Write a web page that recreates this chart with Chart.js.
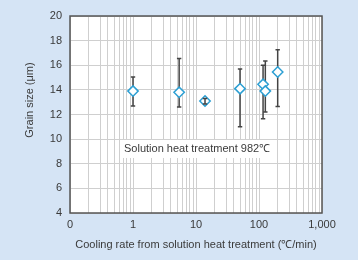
<!DOCTYPE html>
<html>
<head>
<meta charset="utf-8">
<script src="https://cdn.jsdelivr.net/npm/chart.js@4/dist/chart.umd.min.js"></script>
<style>
html,body{margin:0;padding:0;background:#d5e4f5;}
#wrap{width:358px;height:260px;}
</style>
</head>
<body>
<div id="wrap"><canvas id="c" width="358" height="260"></canvas></div>
<script>
// ---- data ----
const coolingRates = [1.0, 5.4, 13.9, 50, 116, 126, 198];
const grainSize    = [13.9, 13.8, 13.1, 14.1, 14.45, 13.9, 15.45];
const errHigh      = [15.05, 16.55, 13.3, 15.7, 16.0, 16.35, 17.25];
const errLow       = [12.7, 12.6, 12.85, 11.0, 11.65, 12.2, 12.65];

const xMajorTicks  = [0.1, 1, 10, 100, 1000];
const xMajorLabels = ['0', '1', '10', '100', '1,000'];
const yTicks       = [4, 6, 8, 10, 12, 14, 16, 18, 20];

const xTitle = 'Cooling rate from solution heat treatment (\u2103/min)';
const yTitle = 'Grain size (\u03bcm)';
const noteText = 'Solution heat treatment 982\u2103';
const notePos = {x: 10.4, y: 9.2};

// ---- style ----
const FONT = '"Liberation Sans", Arial, sans-serif';
const TEXT = '#3a3a3a';
const PAGE_BG = '#d5e4f5';
const GRID = '#cfcfcf';
const MARK = '#2c9fd3';
const BAR = '#444444';
const RADIUS = 5.2;

// minor tick positions for log gridlines
const xAllTicks = [];
for (let i = 0; i < xMajorTicks.length - 1; i++) {
  for (let m = 1; m < 10; m++) xAllTicks.push(+(xMajorTicks[i] * m).toPrecision(6));
}
xAllTicks.push(xMajorTicks[xMajorTicks.length - 1]);

const bgPlugin = {
  id: 'bg',
  beforeDraw(chart) {
    const {ctx, chartArea: a} = chart;
    ctx.save();
    ctx.fillStyle = PAGE_BG;
    ctx.fillRect(0, 0, chart.width, chart.height);
    ctx.fillStyle = '#ffffff';
    ctx.fillRect(a.left, a.top, a.right - a.left, a.bottom - a.top);
    ctx.restore();
  }
};

function drawBar(ctx, x, y, i) {
  const px = x.getPixelForValue(coolingRates[i]);
  const yh = y.getPixelForValue(errHigh[i]);
  const yl = y.getPixelForValue(errLow[i]);
  ctx.beginPath();
  ctx.moveTo(px, yh); ctx.lineTo(px, yl);
  ctx.moveTo(px - 2.2, yh); ctx.lineTo(px + 2.2, yh);
  ctx.moveTo(px - 2.2, yl); ctx.lineTo(px + 2.2, yl);
  ctx.stroke();
}
function isShortBar(y, i) {
  return Math.abs(y.getPixelForValue(errHigh[i]) - y.getPixelForValue(errLow[i])) < 2 * RADIUS;
}

const extrasPlugin = {
  id: 'extras',
  beforeDatasetsDraw(chart) {
    const {ctx, scales: {x, y}} = chart;
    ctx.save();
    // annotation box
    ctx.font = '11px ' + FONT;
    const tw = ctx.measureText(noteText).width;
    const cx = x.getPixelForValue(notePos.x), cy = y.getPixelForValue(notePos.y);
    ctx.fillStyle = '#ffffff';
    ctx.fillRect(cx - tw / 2 - 3, cy - 9, tw + 6, 18);
    ctx.fillStyle = TEXT;
    ctx.textAlign = 'center';
    ctx.textBaseline = 'middle';
    ctx.fillText(noteText, cx, cy);
    // error bars (behind markers)
    ctx.strokeStyle = BAR;
    ctx.lineWidth = 1.5;
    for (let i = 0; i < coolingRates.length; i++) {
      if (!isShortBar(y, i)) drawBar(ctx, x, y, i);
    }
    ctx.restore();
  },
  afterDatasetsDraw(chart) {
    const {ctx, scales: {x, y}} = chart;
    ctx.save();
    ctx.strokeStyle = BAR;
    ctx.lineWidth = 1.5;
    for (let i = 0; i < coolingRates.length; i++) {
      if (isShortBar(y, i)) drawBar(ctx, x, y, i);
    }
    ctx.restore();
  },
  afterDraw(chart) {
    const {ctx, chartArea: a} = chart;
    ctx.save();
    ctx.strokeStyle = '#555555';
    ctx.lineWidth = 1.5;
    ctx.strokeRect(a.left, a.top, a.right - a.left, a.bottom - a.top);
    // y title
    ctx.fillStyle = TEXT;
    ctx.font = '11px ' + FONT;
    ctx.textAlign = 'center';
    ctx.textBaseline = 'middle';
    ctx.translate(30, 100);
    ctx.rotate(-Math.PI / 2);
    ctx.fillText(yTitle, 0, 0);
    ctx.restore();
  }
};

new Chart(document.getElementById('c'), {
  type: 'scatter',
  data: {
    datasets: [{
      data: coolingRates.map((v, i) => ({x: v, y: grainSize[i]})),
      pointStyle: 'rectRot',
      pointRadius: RADIUS,
      pointBorderWidth: 1.5,
      pointBorderColor: MARK,
      pointBackgroundColor: '#ffffff',
      showLine: false
    }]
  },
  options: {
    responsive: false,
    animation: false,
    events: [],
    layout: {padding: {left: 0, right: 36, top: 16, bottom: 0}},
    plugins: {legend: {display: false}, tooltip: {enabled: false}},
    scales: {
      x: {
        type: 'logarithmic',
        min: 0.1, max: 1000,
        afterBuildTicks(scale) { scale.ticks = xAllTicks.map(v => ({value: v})); },
        afterFit(scale) { scale.height = 47; },
        grid: {color: GRID, drawTicks: false, lineWidth: 1},
        border: {display: false},
        ticks: {
          autoSkip: false, maxRotation: 0, padding: 5,
          color: TEXT, font: {family: FONT, size: 11},
          callback(v) { const k = xMajorTicks.findIndex(t => Math.abs(t - v) < 1e-9); return k >= 0 ? xMajorLabels[k] : ''; }
        },
        title: {display: true, text: xTitle, color: TEXT, font: {family: FONT, size: 11}, padding: {top: 0, bottom: 8}}
      },
      y: {
        min: 4, max: 20,
        afterBuildTicks(scale) { scale.ticks = yTicks.map(v => ({value: v})); },
        afterFit(scale) { scale.width = 70; },
        grid: {color: GRID, drawTicks: false, lineWidth: 1},
        border: {display: false},
        ticks: {padding: 8, color: TEXT, font: {family: FONT, size: 11}}
      }
    }
  },
  plugins: [bgPlugin, extrasPlugin]
});
</script>
</body>
</html>
